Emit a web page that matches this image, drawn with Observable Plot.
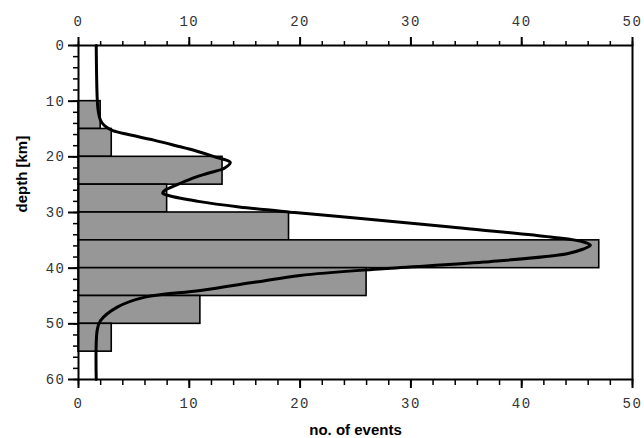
<!DOCTYPE html>
<html>
<head>
<meta charset="utf-8">
<script src="https://cdn.jsdelivr.net/npm/d3@7"></script>
<script src="https://cdn.jsdelivr.net/npm/@observablehq/plot@0.6"></script>
<style>
  body { margin: 0; background: #fff; }
  svg g[aria-label$="tick label"] text { letter-spacing: 1.5px; }
</style>
</head>
<body>
<div id="chart"></div>
<script>
// Histogram bins (depth, km) and counts
const binStart = [10, 15, 20, 25, 30, 35, 40, 45, 50];
const binEnd   = [15, 20, 25, 30, 35, 40, 45, 50, 55];
const counts   = [2, 3, 13, 8, 19, 47, 26, 11, 3];

// Smooth fitted curve (depth km, no. of events)
const curveDepth = [0, 10, 12, 13.5, 14.5, 15.3, 16, 17, 18, 19, 20, 21, 22, 23, 24, 25, 26, 26.5, 27, 28, 29, 30, 31, 32.6, 34.4, 35.3, 35.9, 36.6, 37.4, 38.9, 40.1, 41.3, 42.5, 44, 45.2, 47, 49.4, 51, 60];
const curveCount = [1.6, 1.7, 1.8, 2.0, 2.4, 3.1, 4.5, 6.8, 8.8, 10.7, 12.3, 13.7, 13.2, 11.6, 10.1, 8.9, 7.8, 7.6, 8.2, 10.8, 14.5, 19.5, 25, 33.6, 42.6, 45.6, 46.2, 45.5, 44.1, 36.6, 27.5, 20, 16, 11, 6, 3.5, 2.0, 1.7, 1.6];

const xMajor = [0, 10, 20, 30, 40, 50];
const xMinor = d3.range(0, 51, 2);
const yMajor = [0, 10, 20, 30, 40, 50, 60];
const yMinor = d3.range(0, 61, 2);

const bins = binStart.map((d, i) => ({y1: d, y2: binEnd[i], count: counts[i]}));
const curve = curveDepth.map((d, i) => ({depth: d, count: curveCount[i]}));

const tickFont = {fontFamily: "Liberation Mono, monospace", fontSize: 14, fill: "#333"};

const chart = Plot.plot({
  width: 644,
  height: 438,
  marginLeft: 78,
  marginRight: 12,
  marginTop: 45,
  marginBottom: 59,
  style: {fontFamily: "Liberation Mono, monospace", fontSize: "14px", background: "#fff"},
  x: {domain: [0, 50], label: null},
  y: {domain: [0, 60], reverse: true, label: null},
  marks: [
    Plot.rectX(bins, {x1: 0, x2: "count", y1: "y1", y2: "y2", fill: "#979797", stroke: "#000", strokeWidth: 1.6}),
    Plot.line(curve, {x: "count", y: "depth", curve: "catmull-rom", stroke: "#000", strokeWidth: 3}),
    Plot.frame({stroke: "#000", strokeWidth: 2}),
    // top axis
    Plot.axisX(xMinor, {anchor: "top", tickSize: 5, strokeWidth: 1.5, text: null, label: null}),
    Plot.axisX(xMajor, {anchor: "top", tickSize: 9, tickPadding: 11, strokeWidth: 2, tickFormat: d => d, label: null, ...tickFont}),
    // bottom axis
    Plot.axisX(xMinor, {anchor: "bottom", tickSize: 6, strokeWidth: 1.5, text: null, label: null}),
    Plot.axisX(xMajor, {anchor: "bottom", tickSize: 9, tickPadding: 10, strokeWidth: 2, tickFormat: d => d, label: null, ...tickFont}),
    // left axis
    Plot.axisY(yMinor, {anchor: "left", tickSize: 5, strokeWidth: 1.5, text: null, label: null}),
    Plot.axisY(yMajor, {anchor: "left", tickSize: 10, tickPadding: 3, strokeWidth: 2, tickFormat: d => d, label: null, ...tickFont}),
    // axis titles
    Plot.text(["no. of events"], {frameAnchor: "bottom", dy: 55, text: d => d, fontFamily: "Liberation Sans, Arial, sans-serif", fontWeight: "bold", fontSize: 15, fill: "#000"}),
    Plot.text(["depth [km]"], {frameAnchor: "left", dx: -56, rotate: -90, text: d => d, fontFamily: "Liberation Sans, Arial, sans-serif", fontWeight: "bold", fontSize: 15, fill: "#000"})
  ]
});
document.getElementById("chart").append(chart);
</script>
</body>
</html>
